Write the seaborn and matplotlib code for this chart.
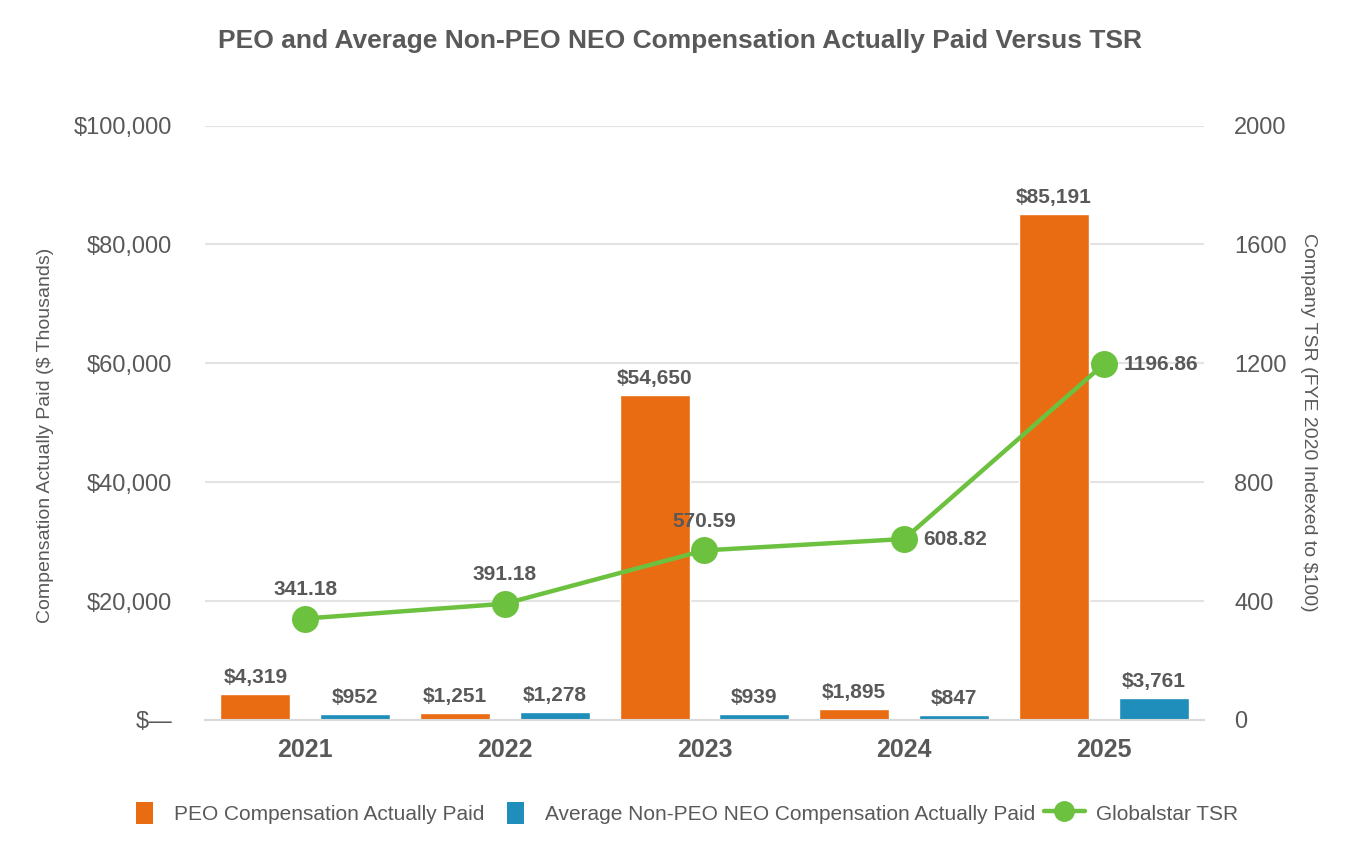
import matplotlib
matplotlib.use("Agg")
import matplotlib.pyplot as plt
import seaborn as sns
import pandas as pd
import numpy as np
from matplotlib.patches import Patch, Rectangle
from matplotlib.lines import Line2D
from matplotlib.legend_handler import HandlerPatch, HandlerLine2D

years = ["2021", "2022", "2023", "2024", "2025"]
peo_cap = [4319, 1251, 54650, 1895, 85191]
neo_cap = [952, 1278, 939, 847, 3761]
tsr = [341.18, 391.18, 570.59, 608.82, 1196.86]
series_names = ["PEO Compensation Actually Paid", "Average Non-PEO NEO Compensation Actually Paid"]
tsr_name = "Globalstar TSR"
left_ticks = [0, 20000, 40000, 60000, 80000, 100000]
left_ticklabels = ["$\u2014", "$20,000", "$40,000", "$60,000", "$80,000", "$100,000"]
right_ticks = [0, 400, 800, 1200, 1600, 2000]

ORANGE = "#E96C13"
BLUE = "#1F8EBA"
GREEN = "#6CC13F"
TXT = "#595959"

sns.set_theme(style="white")
plt.rcParams["font.family"] = ["Liberation Sans", "DejaVu Sans"]

df = pd.DataFrame({
    "year": years * 2,
    "value": peo_cap + neo_cap,
    "series": [series_names[0]] * 5 + [series_names[1]] * 5,
})

fig = plt.figure(figsize=(13.6, 8.64), dpi=100)
ax = fig.add_axes([0.151, 0.1667, 0.734, 0.688])
sns.barplot(data=df, x="year", y="value", hue="series", palette=[ORANGE, BLUE],
            width=1.0, gap=0.3, ax=ax, legend=False, saturation=1)

for cont in ax.containers:
    ax.bar_label(cont, labels=[f"${v:,.0f}" for v in cont.datavalues], padding=5,
                 fontsize=15, fontweight="bold", color=TXT)

ax.set_ylim(0, 100000)
ax.set_xlim(-0.5, 4.5)
ax.set_yticks(left_ticks)
ax.set_yticklabels(left_ticklabels)
ax.grid(axis="y", color="#E3E3E3", linewidth=1.5)
ax.set_axisbelow(True)
for s in ["top", "left", "right"]:
    ax.spines[s].set_visible(False)
ax.spines["bottom"].set_color("#D9D9D9")
ax.spines["bottom"].set_linewidth(1.5)
ax.tick_params(axis="y", length=0, pad=24, labelsize=17, labelcolor=TXT)
ax.tick_params(axis="x", length=0, pad=13, labelsize=18, labelcolor=TXT)
for t in ax.get_xticklabels():
    t.set_fontweight("bold")
ax.set_xlabel("")
ax.set_ylabel("Compensation Actually Paid ($ Thousands)", fontsize=14, color=TXT,
              labelpad=14, y=0.479)

ax2 = ax.twinx()
sns.pointplot(x=years, y=tsr, ax=ax2, color=GREEN, markers="o", markersize=17,
              linewidth=3.2, errorbar=None)
ax2.set_ylim(0, 2000)
ax2.set_xlim(-0.5, 4.5)
ax2.set_yticks(right_ticks)
ax2.tick_params(axis="y", length=0, pad=22, labelsize=17, labelcolor=TXT)
for s in ["top", "left", "right", "bottom"]:
    ax2.spines[s].set_visible(False)
ax2.set_ylabel("Company TSR (FYE 2020 Indexed to $100)", fontsize=14, color=TXT,
               rotation=270, labelpad=22)
ax2.grid(False)

for i, v in enumerate(tsr):
    if i < 3:
        ax2.annotate(f"{v:.2f}", (i, v), xytext=(0, 14), textcoords="offset points",
                     ha="center", va="bottom", fontsize=15, fontweight="bold", color=TXT)
    else:
        ax2.annotate(f"{v:.2f}", (i, v), xytext=(14, 0), textcoords="offset points",
                     ha="left", va="center", fontsize=15, fontweight="bold", color=TXT)

fig.suptitle("PEO and Average Non-PEO NEO Compensation Actually Paid Versus TSR",
             x=0.5, y=0.967, fontsize=19, fontweight="bold", color=TXT)


def small_patch(legend, orig_handle, xdescent, ydescent, width, height, fontsize):
    w, h = 12.2, 15.8
    return Rectangle((-xdescent + 0.33 * width, -ydescent + height / 2 - h / 2), w, h)


handles = [
    Patch(facecolor=ORANGE, edgecolor="none", label=series_names[0]),
    Patch(facecolor=BLUE, edgecolor="none", label=series_names[1]),
    Line2D([0], [0], color=GREEN, lw=3.2, marker="o", markersize=14, label=tsr_name),
]
leg = fig.legend(handles=handles, loc="center", bbox_to_anchor=(0.5, 0.059), ncol=3,
                 frameon=False, fontsize=15, handlelength=2.0, handleheight=1.2,
                 columnspacing=0.4, handletextpad=0.5,
                 handler_map={Patch: HandlerPatch(patch_func=small_patch),
                              Line2D: HandlerLine2D(numpoints=1)})
for t in leg.get_texts():
    t.set_color(TXT)

fig.savefig("out.png", dpi=100)
